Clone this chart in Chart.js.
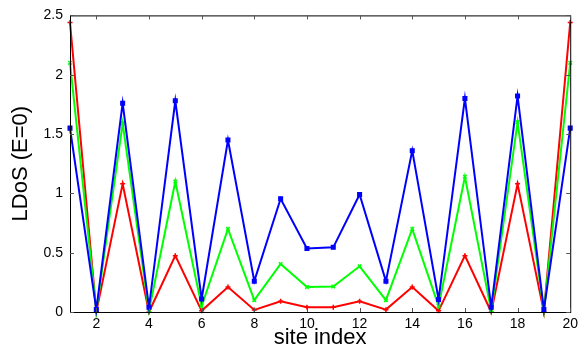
<!DOCTYPE html>
<html>
<head>
<meta charset="utf-8">
<script src="https://cdn.jsdelivr.net/npm/chart.js@4/dist/chart.umd.min.js"></script>
<style>
  body { margin: 0; background: #fff; }
  #wrap { width: 582px; height: 351px; }
</style>
</head>
<body>
<div id="wrap"><canvas id="c" width="582" height="351"></canvas></div>
<script>
// site index 1..20
const sites = [1, 2, 3, 4, 5, 6, 7, 8, 9, 10, 11, 12, 13, 14, 15, 16, 17, 18, 19, 20];
const redValues = [2.44, 0.0, 1.08, 0.0, 0.475, 0.01, 0.21, 0.017, 0.09, 0.04, 0.04, 0.09, 0.02, 0.21, 0.01, 0.475, 0.0, 1.08, 0.0, 2.44];
const greenValues = [2.10, 0.01, 1.59, 0.01, 1.10, 0.05, 0.70, 0.10, 0.405, 0.21, 0.215, 0.385, 0.10, 0.70, 0.05, 1.14, 0.01, 1.60, 0.01, 2.10];
const blueValues = [1.55, 0.02, 1.76, 0.04, 1.78, 0.11, 1.45, 0.26, 0.955, 0.535, 0.545, 0.99, 0.26, 1.36, 0.105, 1.80, 0.04, 1.82, 0.02, 1.55];
const xTicks = [2, 4, 6, 8, 10, 12, 14, 16, 18, 20];
const yTicks = [0, 0.5, 1, 1.5, 2, 2.5];

const FONT = 'Liberation Sans, Arial, sans-serif';

function toPoints(vals) {
    return sites.map((s, i) => ({ x: s, y: vals[i] }));
}

function series(label, vals, color, style) {
    return {
        label: label,
        data: toPoints(vals),
        borderColor: color,
        backgroundColor: color,
        borderWidth: 2,
        pointStyle: style,
        pointRadius: 2.5,
        pointBorderWidth: 1.5,
        tension: 0,
        clip: false
    };
}

// frame + inward ticks, matlab style
const frameTicks = {
    id: 'frameTicks',
    afterDraw(chart) {
        const { ctx, chartArea: a, scales } = chart;
        ctx.save();
        ctx.strokeStyle = '#000';
        ctx.lineWidth = 1;
        ctx.strokeRect(a.left + 0.5, a.top + 0.5, a.right - a.left, a.bottom - a.top);
        ctx.strokeStyle = '#555';
        const len = 4;
        ctx.beginPath();
        xTicks.forEach(v => {
            const px = Math.round(scales.x.getPixelForValue(v)) + 0.5;
            ctx.moveTo(px, a.top); ctx.lineTo(px, a.top + len);
            ctx.moveTo(px, a.bottom); ctx.lineTo(px, a.bottom - len);
        });
        yTicks.forEach(v => {
            const py = Math.round(scales.y.getPixelForValue(v)) + 0.5;
            ctx.moveTo(a.left, py); ctx.lineTo(a.left + len, py);
            ctx.moveTo(a.right, py); ctx.lineTo(a.right - len, py);
        });
        ctx.stroke();
        ctx.restore();
    }
};

new Chart(document.getElementById('c'), {
    type: 'line',
    data: {
        // first dataset is drawn on top
        datasets: [
            series('blue', blueValues, '#0000ff', 'rect'),
            series('green', greenValues, '#00ff00', 'crossRot'),
            series('red', redValues, '#ff0000', 'cross')
        ]
    },
    options: {
        responsive: false,
        animation: false,
        layout: { padding: { top: 12, right: 11, left: 0, bottom: 0 } },
        plugins: {
            legend: { display: false },
            tooltip: { enabled: false }
        },
        scales: {
            x: {
                type: 'linear',
                min: 1,
                max: 20,
                afterBuildTicks(scale) {
                    scale.ticks = xTicks.map(v => ({ value: v }));
                },
                afterFit(scale) { scale.height = 39; },
                grid: { display: false, drawTicks: false },
                border: { display: true, color: '#000' },
                ticks: {
                    color: '#000',
                    padding: 4,
                    maxRotation: 0,
                    font: { family: FONT, size: 14 }
                },
                title: {
                    display: true,
                    text: 'site index',
                    color: '#000',
                    padding: { top: 0, bottom: 0 },
                    font: { family: FONT, size: 22 }
                }
            },
            y: {
                min: 0,
                max: 2.5,
                afterBuildTicks(scale) {
                    scale.ticks = yTicks.map(v => ({ value: v }));
                },
                afterFit(scale) { scale.width = 70; },
                grid: { display: false, drawTicks: false },
                border: { display: true, color: '#000' },
                ticks: {
                    color: '#000',
                    padding: 7,
                    font: { family: FONT, size: 14 },
                    callback: v => String(v)
                },
                title: {
                    display: true,
                    text: 'LDoS (E=0)',
                    color: '#000',
                    padding: { top: 8, bottom: 0 },
                    font: { family: FONT, size: 22 }
                }
            }
        }
    },
    plugins: [frameTicks]
});
</script>
</body>
</html>
